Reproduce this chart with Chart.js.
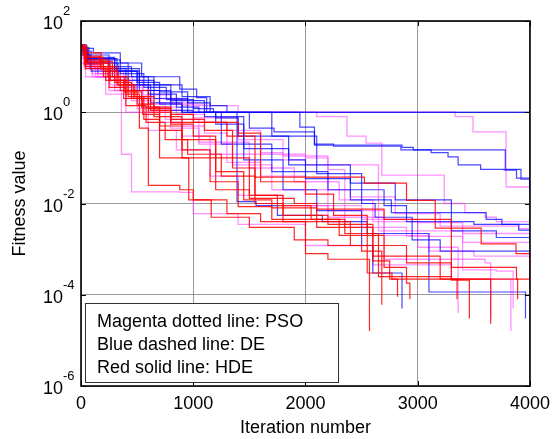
<!DOCTYPE html>
<html>
<head>
<meta charset="utf-8">
<script src="https://cdn.jsdelivr.net/npm/chart.js@4/dist/chart.umd.min.js"></script>
<style>
html,body{margin:0;padding:0;background:#fff;}
#wrap{width:557px;height:439px;position:relative;}
</style>
</head>
<body>
<div id="wrap"><canvas id="c" width="557" height="439"></canvas></div>
<script>
// ---- data: each run is a list of [iteration, best fitness] change points ----
const xTicks = [0, 1000, 2000, 3000, 4000];
const yTicks = [1e-6, 1e-4, 1e-2, 1, 1e2];
const legendLines = ["Magenta dotted line: PSO", "Blue dashed line: DE", "Red solid line: HDE"];

const psoRuns = [
  [[0,20],[40,12],[150,7],[350,4],[600,2],[900,1.4],[1400,1],[3333,0.8],[3493,0.37],[3787,0.023],[4000,0.023]],
  [[0,24],[30,14],[120,9],[300,5],[550,2.4],[800,1.5],[1100,1],[2100,0.8],[2370,0.3],[2540,0.21],[2680,0.042],[3236,0.01],[3420,0.0063],[3600,0.005],[3700,0.004],[4000,0.0034]],
  [[0,15],[30,9],[100,6],[300,3],[500,1.2],[700,0.6],[900,0.3],[1150,0.12],[1500,0.06],[1900,0.03],[2300,0.012],[2600,0.004],[3000,0.0011],[3360,4e-5]],
  [[0,22],[40,12],[100,7],[250,3],[360,0.12],[450,0.018],[880,0.0175],[1000,0.006],[1400,0.0035],[2000,0.0012],[2600,4.5e-4],[3300,2.2e-4],[3830,1.6e-5]],
  [[0,18],[50,10],[150,6],[300,3.5],[450,1.8],[650,1.1],[900,0.5],[1100,0.35],[1300,0.08],[1600,0.04],[2000,0.02],[2400,0.014],[2800,0.006],[3200,0.0032],[3900,0.0028],[4000,0.0027]],
  [[0,28],[30,16],[120,10],[280,6],[460,3],[700,1.6],[1000,0.75],[1400,0.25],[1800,0.11],[2200,0.055],[2350,0.003],[2900,0.0019],[3400,0.0014],[4000,4.5e-4]],
  [[0,12],[40,6],[220,2.5],[400,1],[600,0.4],[850,0.15],[1150,0.04],[1400,0.015],[1800,0.009],[2200,0.007],[2700,0.002],[3100,9e-4],[3500,7e-4],[4000,2e-4]],
  [[0,20],[40,11],[150,7],[350,3.5],[550,1.5],[750,0.7],[1050,0.2],[1350,0.07],[1700,0.02],[2000,0.009],[2500,0.0045],[3000,0.0038],[3400,3.5e-4],[3700,3.3e-4],[3850,5e-5]],
  [[0,25],[50,14],[180,8],[380,4],[600,1.3],[850,0.9],[1100,0.6],[1300,0.4],[1600,0.13],[1800,0.09],[2000,0.07],[2650,0.0025],[3400,0.0022],[4000,0.002]],
  [[0,16],[30,10],[130,6],[260,4],[400,2],[600,1],[800,0.45],[1050,0.22],[1500,0.12],[2000,0.1],[2200,0.005],[2700,6e-4],[3600,5e-4],[3650,3e-5]]
];

const deRuns = [
  [[0,25],[110,20],[350,12],[540,6],[880,3.2],[1030,2.1],[1120,1],[4000,1]],
  [[0,28],[40,18],[250,10],[450,6],[650,4],[900,2.2],[1150,1.4],[1300,1],[1950,0.47],[2080,0.19],[2860,0.17],[2960,0.15],[3120,0.13],[3270,0.105],[3360,0.07],[3560,0.056],[3770,0.054],[3880,0.036],[4000,0.018]],
  [[0,22],[60,15],[300,8],[500,4.5],[700,2.8],[950,1.6],[1150,1],[1500,0.45],[1720,0.37],[2080,0.2],[2250,0.18],[2850,0.15],[3780,0.056],[3920,0.034],[4000,0.02]],
  [[0,26],[70,14],[350,7],[560,3.5],[760,1.9],[1000,1.2],[1180,1],[1390,0.011],[1560,0.009],[1750,0.0055],[2150,0.004],[2550,0.0022],[3100,1.15e-4],[3960,3e-5]],
  [[0,20],[60,12],[330,6],[600,2.5],[850,1.3],[1050,1],[1200,0.55],[1450,0.16],[1850,0.07],[2400,0.012],[2765,0.0063],[3610,0.0045],[3750,0.0035],[3900,0.0026],[4000,0.0024]],
  [[0,18],[80,9],[400,4],[620,1.6],[900,1],[1250,0.2],[1700,0.05],[2200,0.02],[2700,0.009],[2900,0.004],[3300,0.0025],[3700,0.0018],[4000,0.0016]],
  [[0,24],[60,12],[420,5],[650,2],[950,1],[1200,0.75],[1400,0.3],[2100,0.045],[2500,0.01],[2620,0.005],[2950,0.0016],[3200,9e-4],[4000,7e-4]],
  [[0,30],[50,16],[300,9],[520,4],[800,1.8],[1100,0.8],[1450,0.09],[1800,0.02],[2100,0.007],[2500,0.0012],[2600,3e-4],[2860,5e-5]],
  [[0,22],[90,8],[500,3],[800,1.1],[1000,1],[1700,0.3],[1850,0.09],[2000,0.035],[2400,0.028],[2800,0.012],[3300,0.004],[3500,0.0035],[4000,0.0028]],
  [[0,27],[50,15],[320,8],[520,3],[700,1.5],[900,1],[4000,1]]
];

const hdeRuns = [
  [[0,30],[30,20],[180,10],[320,4],[480,2.2],[650,1.3],[800,0.9],[1000,0.6],[1300,0.3],[1550,0.038],[2525,0.028],[2900,0.0117],[3156,0.0029],[3565,0.0013],[3876,8e-4],[4000,2.2e-4]],
  [[0,25],[40,12],[250,5],[400,2.5],[520,0.45],[600,0.025],[880,0.02],[1000,0.012],[1300,0.006],[1600,0.004],[2000,8e-4],[2200,6e-4],[2570,1.6e-5]],
  [[0,20],[30,11],[200,6],[350,3],[500,1.5],[650,0.8],[900,0.25],[1200,0.1],[1500,0.015],[1800,0.004],[2400,0.0012],[2900,5e-4],[3300,2.1e-4],[3460,3e-5]],
  [[0,28],[50,13],[280,6],[420,3],[600,1.2],[800,0.55],[1000,0.3],[1200,0.05],[1450,0.012],[1700,0.008],[2100,0.003],[2600,7e-4],[3200,2.2e-4],[3650,2.3e-5]],
  [[0,22],[40,10],[220,5],[380,2],[550,0.9],[700,0.4],[900,0.15],[1150,0.03],[1400,0.0085],[1700,0.0045],[2300,0.002],[2700,4e-4],[2900,1.8e-4],[2930,8e-5]],
  [[0,30],[30,16],[200,8],[330,4],[470,2],[620,1.1],[800,0.7],[1100,0.4],[1350,0.06],[1550,0.015],[1750,0.009],[2050,0.0045],[2350,0.0022],[2650,2.5e-4],[3300,2.2e-4],[3350,8e-5]],
  [[0,18],[40,9],[250,3.5],[400,1.4],[580,0.6],[750,0.25],[950,0.12],[1250,0.04],[1550,0.01],[1800,0.0055],[2200,0.0035],[2600,5.5e-4],[2750,2.2e-4],[2820,9e-5]],
  [[0,26],[50,12],[260,5],[420,2.2],[560,0.7],[700,0.1],[960,0.012],[1160,0.005],[1500,0.003],[1900,0.0016],[2200,0.0012],[2500,9e-4],[2680,6e-5]],
  [[0,24],[40,14],[240,6],[390,2.8],[540,1.3],[700,0.5],[900,0.1],[1200,0.02],[1500,0.013],[1900,0.01],[2100,0.0075],[2700,0.0045],[3300,4e-4],[3880,2.2e-4],[3890,8e-5]],
  [[0,29],[30,17],[170,9],[300,4.5],[450,2],[600,1],[800,0.6],[1400,0.35],[1600,0.03],[2000,0.016],[2250,0.0055],[2550,3e-4],[2770,2.2e-4],[4000,2.2e-4]]
];

// ---- build datasets ----
const FONT = '"Liberation Sans", Arial, sans-serif';
function mk(runs, color, width, order, name){
  return runs.map((r,i)=>({
    label: name + ' ' + (i+1),
    data: r.map(p=>({x:p[0], y:p[1]})),
    borderColor: color,
    borderWidth: width,
    pointRadius: 0,
    stepped: true,
    fill: false,
    order: order
  }));
}
const datasets = [].concat(
  mk(hdeRuns, 'rgba(255,0,0,0.85)', 1.2, 1, 'HDE'),
  mk(deRuns, 'rgba(0,0,255,0.72)', 1.2, 2, 'DE'),
  mk(psoRuns, 'rgba(255,60,255,0.55)', 1.3, 3, 'PSO')
);

const decor = {
  id: 'decor',
  beforeDraw(chart){
    const ctx = chart.ctx;
    ctx.save(); ctx.fillStyle = '#fff'; ctx.fillRect(0,0,chart.width,chart.height); ctx.restore();
  },
  afterDraw(chart){
    const {ctx, chartArea:a} = chart;
    const x = chart.scales.x, y = chart.scales.y;
    ctx.save();
    // inward tick marks on all sides
    ctx.strokeStyle = '#000'; ctx.lineWidth = 1;
    ctx.beginPath();
    xTicks.forEach(v=>{
      const px = Math.round(x.getPixelForValue(v)) + 0.5;
      ctx.moveTo(px, a.top); ctx.lineTo(px, a.top + 5);
      ctx.moveTo(px, a.bottom); ctx.lineTo(px, a.bottom - 5);
    });
    yTicks.forEach(v=>{
      const py = Math.round(y.getPixelForValue(v)) + 0.5;
      ctx.moveTo(a.left, py); ctx.lineTo(a.left + 5, py);
      ctx.moveTo(a.right, py); ctx.lineTo(a.right - 5, py);
    });
    ctx.stroke();
    // box
    ctx.lineWidth = 1.6;
    ctx.strokeRect(a.left, a.top, a.right - a.left, a.bottom - a.top);
    // y tick labels: 10 with superscript exponent
    ctx.fillStyle = '#000';
    ctx.textBaseline = 'alphabetic';
    yTicks.forEach(v=>{
      const e = Math.round(Math.log10(v));
      const py = y.getPixelForValue(v);
      ctx.font = '18px ' + FONT; ctx.textAlign = 'right';
      ctx.fillText('10', a.left - 18, py + 8);
      ctx.font = '13px ' + FONT; ctx.textAlign = 'left';
      ctx.fillText(String(e), a.left - 18, py - 6);
    });
    // legend box
    const lx = a.left + 4, lw = 253, lh = 79, ly = a.bottom - 4 - lh;
    ctx.fillStyle = '#fff';
    ctx.fillRect(lx, ly, lw, lh);
    ctx.strokeStyle = '#333'; ctx.lineWidth = 1;
    ctx.strokeRect(lx + 0.5, ly + 0.5, lw, lh);
    ctx.fillStyle = '#000';
    ctx.font = '18px ' + FONT; ctx.textAlign = 'left';
    legendLines.forEach((t,i)=>ctx.fillText(t, lx + 12, ly + 24 + 23*i));
    ctx.restore();
  }
};

new Chart(document.getElementById('c'), {
  type: 'line',
  data: { datasets },
  options: {
    responsive: false,
    animation: false,
    parsing: true,
    layout: { padding: { left: 0, right: 26, top: 21, bottom: 0 } },
    plugins: { legend: { display: false }, tooltip: { enabled: false } },
    scales: {
      x: {
        type: 'linear', min: 0, max: 4000,
        afterBuildTicks: s => { s.ticks = xTicks.map(v=>({value:v})); },
        afterFit: s => { s.height = 53; },
        ticks: { color: '#000', font: { family: FONT, size: 18 }, padding: 7, maxRotation: 0,
                 callback: v => String(v) },
        grid: { color: 'rgba(120,120,120,0.75)', lineWidth: 1, drawTicks: false },
        border: { display: false },
        title: { display: true, text: 'Iteration number', color: '#000',
                 font: { family: FONT, size: 18 }, padding: { top: 0, bottom: 0 } }
      },
      y: {
        type: 'logarithmic', min: 1e-6, max: 1e2,
        afterBuildTicks: s => { s.ticks = yTicks.map(v=>({value:v})); },
        afterFit: s => { s.width = 81; },
        ticks: { display: false },
        grid: { color: 'rgba(120,120,120,0.75)', lineWidth: 1, drawTicks: false },
        border: { display: false },
        title: { display: true, text: 'Fitness value', color: '#000',
                 font: { family: FONT, size: 18 }, padding: { top: 9, bottom: 0 } }
      }
    }
  },
  plugins: [decor]
});
</script>
</body>
</html>
